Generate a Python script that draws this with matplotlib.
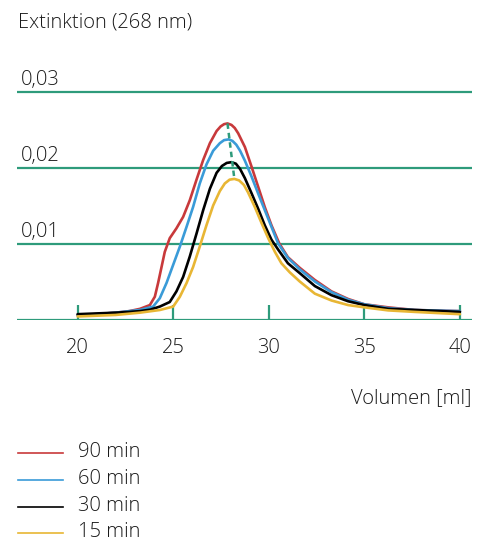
import matplotlib
matplotlib.use("Agg")
import matplotlib.pyplot as plt
from matplotlib.lines import Line2D
from matplotlib import transforms
import numpy as np

plt.rcParams['font.family'] = ['Open Sans', 'DejaVu Sans']

# ---- data ----
series_names = ["90 min", "60 min", "30 min", "15 min"]
series_colors = ["#c8393b", "#3a9bd8", "#000000", "#e8b634"]

x_90 = [20, 21, 22, 22.7, 23.26, 23.78, 24.04, 24.21, 24.39, 24.56, 24.82, 25.17, 25.52, 25.87,
        26.22, 26.57, 26.92, 27.27, 27.48, 27.66, 27.84, 28.05, 28.22, 28.4, 28.75, 29.1, 29.44,
        29.79, 30.14, 30.55, 31.0, 31.62, 32.41, 33.28, 34.15, 35.0, 36.24, 37.63, 40]
y_90 = [.0006, .0007, .0009, .0011, .0014, .0019, .0030, .0048, .0069, .0089, .0107, .0120, .0135, .0157,
        .0184, .0210, .0232, .0248, .0254, .0257, .0258, .0256, .0252, .0245, .0227, .0201, .0175,
        .0148, .0124, .0100, .0082, .0068, .0052, .0037, .0027, .0020, .0016, .00125, .0011]

x_60 = [20, 21, 22, 22.7, 23.26, 23.95, 24.3, 24.65, 25.0, 25.35, 25.7, 26.04, 26.39, 26.74,
        27.09, 27.44, 27.66, 27.9, 28.1, 28.3, 28.5, 28.75, 29.1, 29.44, 29.79, 30.14, 30.49, 31.0,
        31.62, 32.41, 33.28, 34.15, 35.0, 36.24, 37.63, 40]
y_60 = [.0006, .0007, .0009, .0011, .00125, .0017, .0028, .0048, .0072, .0096, .0122, .0148, .0179, .0204,
        .0222, .0232, .0236, .0237, .0235, .0230, .0222, .0209, .0188, .0166, .0144, .0122, .0100, .0081,
        .0066, .0050, .0036, .0026, .0020, .0015, .00125, .0011]

x_30 = [20, 21, 22, 22.7, 23.26, 23.8, 24.3, 24.82, 25.17, 25.52, 25.87, 26.22, 26.57, 26.92,
        27.27, 27.55, 27.8, 28.05, 28.28, 28.5, 28.75, 29.1, 29.44, 29.79, 30.14, 30.49, 31.0,
        31.62, 32.41, 33.28, 34.15, 35.0, 36.24, 37.63, 40]
y_30 = [.0007, .0008, .0009, .0010, .0011, .0013, .0017, .0023, .0037, .0056, .0083, .0113, .0144, .0172,
        .0193, .0202, .0206, .0207, .0205, .0198, .0186, .0166, .0146, .0124, .0105, .0092, .0074,
        .0061, .0044, .0032, .0024, .0019, .0014, .00125, .0010]

x_15 = [20, 21, 22, 23.26, 24.3, 25.0, 25.35, 25.7, 26.04, 26.39, 26.74, 27.09, 27.44, 27.7,
        27.95, 28.2, 28.45, 28.7, 28.92, 29.27, 29.62, 29.97, 30.32, 30.66, 31.1, 31.62, 32.41,
        33.28, 34.15, 35.0, 36.24, 37.63, 40]
y_15 = [.0004, .0005, .0006, .0009, .00125, .0017, .0030, .0048, .0069, .0096, .0124, .0150, .0169, .0179,
        .0184, .0185, .0183, .0177, .0167, .0148, .0127, .0107, .0089, .0074, .0062, .0050, .0034,
        .0025, .0019, .0016, .0012, .0010, .0007]

series_x = [x_90, x_60, x_30, x_15]
series_y = [y_90, y_60, y_30, y_15]

x_ticks = [20, 25, 30, 35, 40]
grid_values = [0.01, 0.02, 0.03]
grid_labels = ["0,01", "0,02", "0,03"]
y_title = "Extinktion (268 nm)"
x_title = "Volumen [ml]"

GREEN = "#2e9b7b"
TEXT = "#1a1a1a"
FS = 14.5
FW = 300

W, H = 486, 539
fig = plt.figure(figsize=(W / 100, H / 100), dpi=100)
ax = fig.add_axes([17 / W, 1 - 319.5 / H, 455 / W, 243.2 / H])
ax.set_xlim(16.83, 40.63)
ax.set_ylim(0, 0.032)
for s in ax.spines.values():
    s.set_visible(False)

# gridlines incl. baseline
for v in [0.0] + grid_values:
    ax.axhline(v, color=GREEN, lw=1.6, zorder=1)

ax.set_xticks(x_ticks)
ax.set_xticklabels([str(t) for t in x_ticks], fontweight=FW)
ax.tick_params(axis='x', direction='in', length=11, width=1.6, color=GREEN,
               pad=13, labelsize=FS, labelcolor=TEXT)
ax.set_yticks([])

# curves
for xs, ys, c in zip(series_x, series_y, series_colors):
    ax.plot(xs, ys, color=c, lw=1.9, solid_capstyle='round', solid_joinstyle='round', zorder=3)

# dashed line connecting peaks of 90 min and 15 min
i_top = int(np.argmax(y_90))
i_bot = int(np.argmax(y_15))
ax.plot([x_90[i_top], x_15[i_bot]], [y_90[i_top], y_15[i_bot]], color=GREEN,
        lw=1.8, ls=(0, (2.2, 1.6)), zorder=5)

# y value labels above the gridlines
trans = transforms.blended_transform_factory(ax.transAxes, ax.transData)
trans = transforms.offset_copy(trans, fig=fig, y=6.5, units='dots')
for v, lab in zip(grid_values, grid_labels):
    ax.text(0.008, v, lab, transform=trans, ha='left', va='baseline',
            fontsize=FS, color=TEXT, fontweight=FW)

fig.text(18 / W, 1 - 22 / H, y_title, ha='left', va='center', fontsize=FS, color=TEXT, fontweight=FW)
fig.text(471 / W, 1 - 398 / H, x_title, ha='right', va='center', fontsize=FS, color=TEXT, fontweight=FW)

# legend (manual)
leg_y = [453.3, 480, 506.7, 533.3]
for name, c, yy in zip(series_names, series_colors, leg_y):
    fig.add_artist(Line2D([18 / W, 63 / W], [1 - yy / H, 1 - yy / H], color=c, lw=1.2))
    fig.text(78 / W, 1 - (yy - 1) / H, name, ha='left', va='center', fontsize=FS, color=TEXT,
             fontweight=FW)

fig.savefig("out.png", dpi=100)
